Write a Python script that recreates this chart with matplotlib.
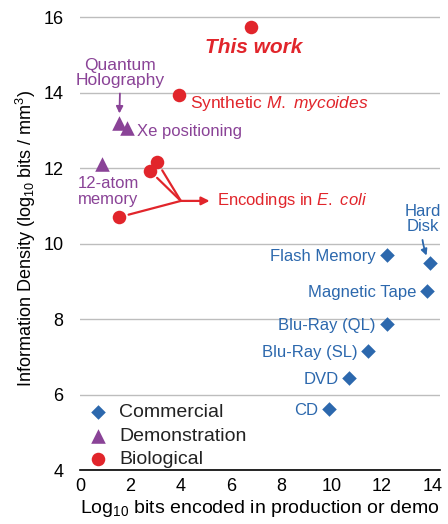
import matplotlib.pyplot as plt

plt.rcParams['font.family'] = ['Liberation Sans', 'DejaVu Sans']
plt.rcParams['mathtext.fontset'] = 'custom'
plt.rcParams['mathtext.rm'] = 'Liberation Sans'
plt.rcParams['mathtext.it'] = 'Liberation Sans:italic'

BLUE = '#2c68ad'
PURPLE = '#8a4397'
RED = '#e1252b'

# commercial storage media (log10 bits, log10 bits/mm3)
com_names = ['Flash Memory', 'Hard\nDisk', 'Magnetic Tape', 'Blu-Ray (QL)',
             'Blu-Ray (SL)', 'DVD', 'CD']
com_x = [12.2, 13.9, 13.8, 12.2, 11.45, 10.7, 9.9]
com_y = [9.7, 9.48, 8.74, 7.87, 7.15, 6.44, 5.62]

# demonstrations
demo_names = ['Quantum\nHolography', 'Xe positioning', '12-atom\nmemory']
demo_x = [1.55, 1.87, 0.87]
demo_y = [13.19, 13.05, 12.1]

# biological
bio_names = ['This work', 'Synthetic $\\it{M.\\ mycoides}$', 'E. coli', 'E. coli', 'E. coli']
bio_x = [6.8, 3.93, 3.06, 2.78, 1.55]
bio_y = [15.73, 13.93, 12.16, 11.92, 10.7]

fig = plt.figure(figsize=(4.48, 5.24), dpi=100)
ax = fig.add_axes([0.179, 0.103, 0.803, 0.886])

ax.scatter(com_x, com_y, marker='D', s=55, color=BLUE, lw=0, zorder=3, label='Commercial')
ax.scatter(demo_x, demo_y, marker='^', s=110, color=PURPLE, lw=0, zorder=3, label='Demonstration')
ax.scatter(bio_x, bio_y, marker='o', s=95, color=RED, lw=0, zorder=3, label='Biological')

# commercial labels, text to the left of each point
for name, x, y in zip(com_names, com_x, com_y):
    if name.startswith('Hard'):
        ax.annotate(name, xy=(x, y), xytext=(x - 0.3, y + 1.16), ha='center', va='center',
                    color=BLUE, fontsize=12, linespacing=1.0,
                    arrowprops=dict(arrowstyle='-|>', color=BLUE, lw=1.3, shrinkA=2, shrinkB=6,
                                    mutation_scale=9, connectionstyle='arc3,rad=0.15'))
    else:
        ax.annotate(name, xy=(x, y), xytext=(-8, -1), textcoords='offset points',
                    ha='right', va='center', color=BLUE, fontsize=12)

# demonstration labels
ax.annotate(demo_names[0], xy=(demo_x[0], demo_y[0]), xytext=(1.6, 14.52), ha='center',
            va='center', color=PURPLE, fontsize=12.5, linespacing=1.0,
            arrowprops=dict(arrowstyle='-|>', color=PURPLE, lw=1.3, shrinkA=2, shrinkB=7,
                            mutation_scale=10))
ax.annotate(demo_names[1], xy=(demo_x[1], demo_y[1]), xytext=(7, -2), textcoords='offset points',
            ha='left', va='center', color=PURPLE, fontsize=12)
ax.text(-0.1, 11.38, demo_names[2], ha='left', va='center', color=PURPLE, fontsize=12,
        linespacing=1.1)

# biological labels
ax.text(6.9, 15.2, bio_names[0], ha='center', va='center', color=RED, fontsize=15,
        fontweight='bold', fontstyle='italic')
ax.annotate(bio_names[1], xy=(bio_x[1], bio_y[1]), xytext=(8, -6), textcoords='offset points',
            ha='left', va='center', color=RED, fontsize=12.5)

# E. coli: lines converge to a junction, then one arrow to the label
jx, jy = 4.0, 11.13
for x, y in zip(bio_x[2:], bio_y[2:]):
    ax.annotate('', xy=(jx, jy), xytext=(x, y),
                arrowprops=dict(arrowstyle='-', color=RED, lw=1.6, shrinkA=7, shrinkB=0))
ax.annotate('Encodings in $\\it{E.\\ coli}$', xy=(jx, jy), xytext=(5.42, jy),
            ha='left', va='center', color=RED, fontsize=12,
            arrowprops=dict(arrowstyle='<|-', color=RED, lw=1.6, shrinkA=3, shrinkB=0,
                            mutation_scale=12))

ax.set_xlim(0, 14.3)
ax.set_ylim(4, 16.3)
ax.set_xticks(range(0, 15, 2))
ax.set_yticks(range(4, 17, 2))
ax.tick_params(length=0, labelsize=13, pad=6)
ax.tick_params(axis='y', pad=12)
ax.yaxis.grid(True, color='#bdbdbd', lw=1)
ax.set_axisbelow(True)
for s in ['top', 'right', 'left']:
    ax.spines[s].set_visible(False)
ax.spines['bottom'].set_linewidth(1.2)

ax.set_xlabel('Log$_{\\mathregular{10}}$ bits encoded in production or demo', fontsize=14, labelpad=2)
ax.set_ylabel('Information Density (log$_{\\mathregular{10}}$ bits / mm$^{\\mathregular{3}}$)',
              fontsize=13, labelpad=4)

leg = ax.legend(loc='lower left', frameon=False, fontsize=14, handletextpad=0.6,
                labelspacing=0.31, borderaxespad=0, handlelength=1.0,
                bbox_to_anchor=(0.0, -0.013))
for t in leg.get_texts():
    t.set_color('#222222')

fig.savefig('out.png', dpi=100)
